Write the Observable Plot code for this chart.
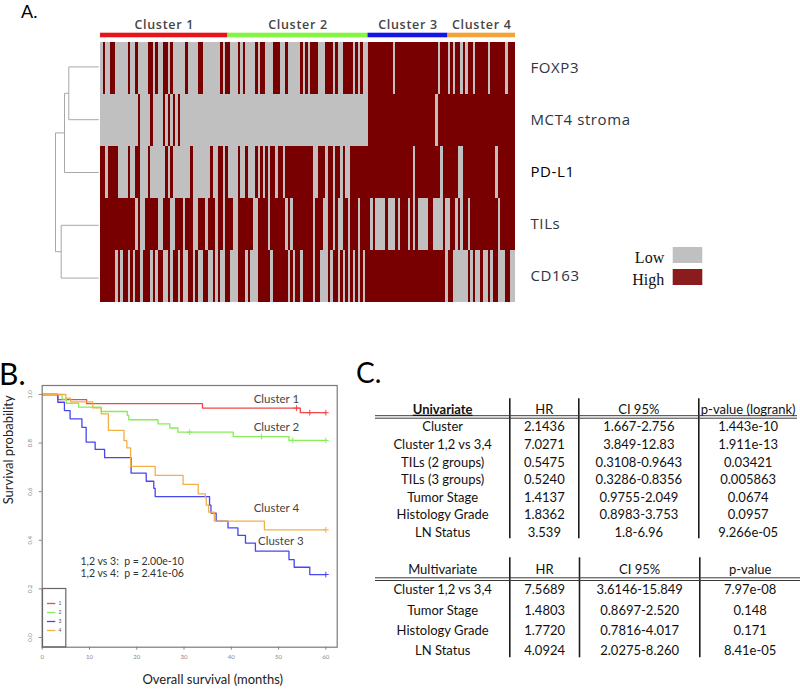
<!DOCTYPE html>
<html>
<head>
<meta charset="utf-8">
<script src="https://cdn.jsdelivr.net/npm/d3@7"></script>
<script src="https://cdn.jsdelivr.net/npm/@observablehq/plot@0.6"></script>
<style>
  html,body{margin:0;padding:0;background:#fff;}
  #root{position:relative;width:800px;height:689px;overflow:hidden;background:#fff;}
  #root svg{position:absolute;overflow:visible;}
  .panel{position:absolute;font-family:Lato,sans-serif;color:#000;line-height:1;white-space:nowrap;}
</style>
</head>
<body>
<div id="root"></div>
<script>
// ================= DATA =================
// Panel A: heatmap (1 = High, 0 = Low), one column per sample, grouped by cluster
const markers = ["FOXP3", "MCT4 stroma", "PD-L1", "TILs", "CD163"];
const clusterNames = ["Cluster 1", "Cluster 2", "Cluster 3", "Cluster 4"];
const clusterSizes = [51, 56, 32, 27];
const clusterColors = ["#e8141c", "#84f545", "#1414e6", "#f2a33a"];
const levels = ["Low", "High"];

const expr_FOXP3 = "0100110000 0100100001 1010011010 0000100001 1000000010 1100010100 0010110001 1100100000 1010111000 1110100111 1010100111 1111111011 1111111111 1111101110 1011010110 1111101111 110111";
const expr_MCT4  = "0000000000 0000010000 1000010101 0100000000 0000000000 0000000000 0000000000 0000000000 0000000000 0000000000 0000000111 1111111111 1111111111 1111011111 1111111111 1111111111 111111";
const expr_PDL1  = "1101111000 0100110001 0000001010 0000001000 0000100110 1000010010 0010101011 0110111111 1111100111 0110110100 1111111111 1111111111 1111101111 1111110111 1110011111 1111111101 111111";
const expr_TILs  = "1111111111 1111010011 1110011100 1110111001 1101110110 1110011111 1001111011 1111010111 1111101110 0110100110 1110111101 0000100010 1110101000 0110000100 1101011011 1111111110 111111";
const expr_CD163 = "1111110101 1010110111 0101100101 1010011010 0110010100 1100011101 0001111101 1111101011 0111101100 0101101010 1010101111 1111111111 1111111111 1111111101 1000000101 0010010110 001100";

// Row dendrogram (merge heights)
const dendroMerges = [
  {id: "m1", a: "FOXP3", b: "MCT4 stroma", height: 30.0},
  {id: "m2", a: "m1", b: "PD-L1", height: 34.3},
  {id: "m3", a: "TILs", b: "CD163", height: 37.6},
  {id: "m4", a: "m2", b: "m3", height: 43.3}
];

// Panel B: Kaplan-Meier curves [months, survival probability]
const km_c1 = [[0,1],[3.3,0.979],[9.4,0.962],[33.9,0.944],[54.6,0.925],[60,0.925]];
const km_c2 = [[0,1],[4.2,0.981],[5.1,0.964],[7.7,0.948],[12.5,0.930],[18.0,0.914],[18.3,0.896],[24.5,0.879],[27.0,0.862],[28.7,0.845],[40.4,0.827],[52.2,0.811],[60,0.811]];
const km_c3 = [[0,1],[3.3,0.968],[4.7,0.934],[5.9,0.900],[8.4,0.865],[9.3,0.804],[11.2,0.774],[13.2,0.740],[18.8,0.676],[22.0,0.643],[23.6,0.614],[23.9,0.580],[35.4,0.545],[35.7,0.512],[36.8,0.479],[39.3,0.451],[41.4,0.420],[43.0,0.388],[45.1,0.355],[52.2,0.320],[53.3,0.289],[56.6,0.259],[60,0.259]];
const km_c4 = [[0,1],[5.0,0.985],[6.0,0.970],[10.7,0.945],[12.5,0.920],[14.0,0.852],[17.3,0.810],[17.9,0.780],[18.7,0.704],[23.9,0.667],[29.8,0.630],[33.0,0.591],[34.5,0.575],[34.7,0.545],[35.2,0.516],[36.4,0.479],[47.0,0.443],[60,0.443]];
const cens_c1 = [[53.8,0.944],[56.6,0.925],[60,0.925]];
const cens_c2 = [[31.2,0.845],[46.4,0.827],[53.0,0.811],[60,0.811]];
const cens_c3 = [[60,0.259]];
const cens_c4 = [[60,0.443]];
const kmClusters = ["1", "2", "3", "4"];
const kmColors = ["#f04848", "#86ee5a", "#4646f2", "#f2b048"];
const kmTicksX = [0, 10, 20, 30, 40, 50, 60];
const kmTicksY = [0, 0.2, 0.4, 0.6, 0.8, 1.0];
const pComparisons = ["1,2 vs 3", "1,2 vs 4"];
const pValues = [2.00e-10, 2.41e-06];

// Panel C: Cox regression tables
const uniHeaders = ["Univariate", "HR", "CI 95%", "p-value (logrank)"];
const uniLabels = ["Cluster", "Cluster 1,2 vs 3,4", "TILs (2 groups)", "TILs (3 groups)", "Tumor Stage", "Histology Grade", "LN Status"];
const uniHR = ["2.1436", "7.0271", "0.5475", "0.5240", "1.4137", "1.8362", "3.539"];
const uniCI = ["1.667-2.756", "3.849-12.83", "0.3108-0.9643", "0.3286-0.8356", "0.9755-2.049", "0.8983-3.753", "1.8-6.96"];
const uniP  = ["1.443e-10", "1.911e-13", "0.03421", "0.005863", "0.0674", "0.0957", "9.266e-05"];
const multiHeaders = ["Multivariate", "HR", "CI 95%", "p-value"];
const multiLabels = ["Cluster 1,2 vs 3,4", "Tumor Stage", "Histology Grade", "LN Status"];
const multiHR = ["7.5689", "1.4803", "1.7720", "4.0924"];
const multiCI = ["3.6146-15.849", "0.8697-2.520", "0.7816-4.017", "2.0275-8.260"];
const multiP  = ["7.97e-08", "0.148", "0.171", "8.41e-05"];

// ================= LAYOUT =================
const root = document.getElementById("root");
const baseStyle = {background: "transparent", overflow: "visible", fontFamily: "Lato, sans-serif"};
function place(svg, left, top) {
  svg.style.position = "absolute";
  svg.style.left = left + "px";
  svg.style.top = top + "px";
  root.appendChild(svg);
  return svg;
}
function label(text, left, top, size) {
  const d = document.createElement("div");
  d.className = "panel";
  d.textContent = text;
  d.style.left = left + "px";
  d.style.top = top + "px";
  d.style.fontSize = size + "px";
  root.appendChild(d);
}

// ---------- Panel A ----------
const N = d3.sum(clusterSizes);
const exprByMarker = {"FOXP3": expr_FOXP3, "MCT4 stroma": expr_MCT4, "PD-L1": expr_PDL1, "TILs": expr_TILs, "CD163": expr_CD163};
const runs = [];
for (const m of markers) {
  const s = exprByMarker[m].replace(/\s/g, "");
  let start = 0;
  for (let i = 1; i <= s.length; i++) {
    if (i === s.length || s[i] !== s[start]) {
      runs.push({marker: m, start, end: i, level: s[start] === "1" ? "High" : "Low"});
      start = i;
    }
  }
}
const clusters = clusterNames.map((name, i) => ({
  name,
  start: d3.sum(clusterSizes.slice(0, i)),
  end: d3.sum(clusterSizes.slice(0, i + 1))
}));

// cluster header bar + names
place(Plot.plot({
  width: 800, height: 40,
  marginLeft: 100, marginRight: 285, marginTop: 32.7, marginBottom: 2.7,
  x: {domain: [0, N], axis: null},
  color: {domain: clusterNames, range: clusterColors},
  style: {...baseStyle, letterSpacing: "0.7px"},
  marks: [
    Plot.rect(clusters, {x1: "start", x2: "end", fill: "name"}),
    Plot.text(clusters, {x: d => (d.start + d.end) / 2, frameAnchor: "top", dy: -13, text: "name",
      fontFamily: "Open Sans", fontWeight: 600, fontSize: 12.5, fill: "#454545"})
  ]
}), 0, 0);

// heatmap
place(Plot.plot({
  width: 800, height: 320,
  marginLeft: 100, marginRight: 285, marginTop: 40, marginBottom: 16,
  x: {domain: [0, N], axis: null},
  y: {domain: markers, axis: null, padding: 0},
  color: {domain: levels, range: ["#c0c0c0", "#780000"]},
  style: {...baseStyle, letterSpacing: "0.6px"},
  marks: [
    Plot.barX(runs, {x1: "start", x2: "end", y: "marker", fill: "level", shapeRendering: "crispEdges"}),
    Plot.text(markers, {y: d => d, text: d => d, frameAnchor: "right", dx: 15, textAnchor: "start",
      fontFamily: "Open Sans", fontSize: 15, fill: d => d === "PD-L1" ? "#000" : "#2c3542"})
  ]
}), 0, 0);

// dendrogram
const nodePos = {};
markers.forEach((m, i) => nodePos[m] = {y: i + 0.5, h: 0});
const dendroSegs = [];
for (const mg of dendroMerges) {
  const A = nodePos[mg.a], B = nodePos[mg.b];
  dendroSegs.push({x1: mg.height, y1: A.y, x2: mg.height, y2: B.y});
  dendroSegs.push({x1: A.h, y1: A.y, x2: mg.height, y2: A.y});
  dendroSegs.push({x1: B.h, y1: B.y, x2: mg.height, y2: B.y});
  nodePos[mg.id] = {y: (A.y + B.y) / 2, h: mg.height};
}
place(Plot.plot({
  width: 800, height: 320,
  x: {type: "linear", domain: [d3.max(dendroMerges, d => d.height), 0], range: [55, 98.3], axis: null},
  y: {type: "linear", domain: [0, markers.length], range: [40, 304], axis: null},
  style: baseStyle,
  marks: [
    Plot.link(dendroSegs, {x1: "x1", y1: "y1", x2: "x2", y2: "y2", stroke: "#a8a8a8", strokeWidth: 1})
  ]
}), 0, 0);

// Low / High legend
place(Plot.plot({
  width: 120, height: 52,
  marginLeft: 82.7, marginRight: 7.7, marginTop: 0, marginBottom: 0,
  x: {axis: null},
  y: {domain: levels, padding: 0.28, axis: null},
  color: {domain: levels, range: ["#c0c0c0", "#8b1c1e"]},
  style: baseStyle,
  marks: [
    Plot.cell(levels, {y: d => d, fill: d => d}),
    Plot.text(levels, {y: d => d, text: d => d, frameAnchor: "left", dx: -9, dy: 2, textAnchor: "end",
      fontFamily: "Liberation Serif", fontSize: 16, fill: "#111"})
  ]
}), 590, 240);

label("A.", 21, 2.3, 18);

// ---------- Panel B ----------
const kmSeries = [km_c1, km_c2, km_c3, km_c4];
const kmPoints = kmSeries.flatMap((arr, i) => arr.map(([t, s]) => ({cluster: kmClusters[i], t, s})));
const censPoints = [cens_c1, cens_c2, cens_c3, cens_c4].flatMap((arr, i) => arr.map(([t, s]) => ({cluster: kmClusters[i], t, s})));
const kmEnds = kmSeries.map((arr, i) => ({cluster: kmClusters[i], t: arr[arr.length - 1][0], s: arr[arr.length - 1][1], name: "Cluster " + kmClusters[i]}));
const fmtP = p => p.toExponential(2).replace(/e([+-])(\d)$/, "e$10$2");
const pText = pComparisons.map((c, i) => `${c}:  p = ${fmtP(pValues[i])}`).join("\n");
const annot = (k, dx, dy) => Plot.text(kmEnds.filter(d => d.cluster === k), {x: "t", y: "s", text: "name",
  textAnchor: "end", dx, dy, fontSize: 11.5, fill: "#444"});

place(Plot.plot({
  width: 345, height: 309,
  marginLeft: 41.7, marginRight: 8.3, marginTop: 5, marginBottom: 42.3,
  x: {type: "linear", domain: [0, 62.4]},
  y: {type: "linear", domain: [-0.04, 1.037]},
  color: {domain: kmClusters, range: kmColors},
  style: baseStyle,
  marks: [
    Plot.axisX({ticks: kmTicksX, tickSize: 3, tickPadding: 5, fontSize: 6, stroke: "#888", color: "#888", label: null}),
    Plot.axisY({ticks: kmTicksY, tickFormat: d3.format(".1f"), tickRotate: -90, tickSize: 3, tickPadding: 7,
      fontSize: 6, stroke: "#888", color: "#888", label: null}),
    Plot.line(kmPoints, {x: "t", y: "s", z: "cluster", stroke: "cluster", curve: "step-after", strokeWidth: 1.3}),
    Plot.dot(censPoints, {x: "t", y: "s", stroke: "cluster", symbol: "plus", r: 2, strokeWidth: 1}),
    annot("1", -26.7, -13.3),
    annot("2", -26.7, -12.7),
    annot("4", -26.7, -22),
    annot("3", -22.3, -33.3),
    Plot.text([pText], {frameAnchor: "top-left", dx: 38.3, dy: 181.8, textAnchor: "start", lineAnchor: "middle",
      lineHeight: 1.12, fontSize: 10.5, fill: "#333"}),
    Plot.text(["Overall survival (months)"], {frameAnchor: "bottom", dx: 23, dy: 36.3, fontSize: 13, fill: "#222"}),
    Plot.text(["Survival probability"], {frameAnchor: "left", rotate: -90, dx: -33.4, dy: -12, fontSize: 13, fill: "#222"}),
    Plot.frame({stroke: "#7a7a7a", strokeWidth: 1.2})
  ]
}), 0, 380);

// KM legend box
place(Plot.plot({
  width: 23.3, height: 58.4,
  marginLeft: 0, marginRight: 0, marginTop: 0, marginBottom: 0,
  x: {axis: null},
  y: {type: "point", domain: kmClusters, range: [10.7, 46.7], axis: null},
  color: {domain: kmClusters, range: kmColors},
  style: baseStyle,
  marks: [
    Plot.frame({stroke: "#666", strokeWidth: 1.2}),
    Plot.ruleY(kmClusters, {y: d => d, stroke: d => d, insetLeft: 5, insetRight: 10, strokeWidth: 1.3}),
    Plot.text(kmClusters, {y: d => d, text: d => d, frameAnchor: "right", dx: -4.3, fontSize: 5, fill: "#555"})
  ]
}), 41.7, 588.3);

label("B.", -1, 358.4, 30);

// ---------- Panel C ----------
function makeTable(cfg) {
  const rows = [cfg.headers, ...cfg.labels.map((l, i) => [l, cfg.hr[i], cfg.ci[i], cfg.p[i]])];
  const cells = rows.flatMap((r, ri) => r.map((t, ci) => ({row: ri, col: ci, text: t})));
  const plain = cells.filter(d => !(cfg.bold && d.row === 0 && d.col === 0));
  const boldCells = cells.filter(d => cfg.bold && d.row === 0 && d.col === 0);
  const svg = Plot.plot({
    width: cfg.width, height: cfg.height,
    marginTop: cfg.mTop, marginBottom: cfg.mBottom,
    marginLeft: cfg.xRange[0], marginRight: cfg.width - cfg.xRange[4],
    x: {type: "linear", domain: [0, 1, 2, 3, 4], range: cfg.xRange, axis: null},
    y: {type: "linear", domain: [0, rows.length - 1], range: cfg.yRange, axis: null},
    style: baseStyle,
    marks: [
      Plot.ruleX([1, 2, 3], {stroke: "#1c1c1c", strokeWidth: 1.6}),
      Plot.ruleY([0], {dy: cfg.lines[0], stroke: "#3a3a3a", strokeWidth: 1}),
      Plot.ruleY([0], {dy: cfg.lines[1], stroke: "#3a3a3a", strokeWidth: 1}),
      Plot.text(plain, {x: d => d.col + 0.5, y: "row", text: "text", fontSize: 13, fill: "#111"}),
      Plot.text(boldCells, {x: d => d.col + 0.5, y: "row", text: "text", fontSize: 13, fontWeight: "bold", fill: "#111"})
    ]
  });
  if (cfg.bold) {
    d3.select(svg).selectAll("text").filter(function() { return this.textContent === cfg.headers[0]; })
      .style("text-decoration", "underline");
  }
  return svg;
}
place(makeTable({
  headers: uniHeaders, labels: uniLabels, hr: uniHR, ci: uniCI, p: uniP, bold: true,
  width: 430, height: 145, mTop: 3.3, mBottom: 1.7,
  xRange: [5, 139.3, 208.3, 328.3, 427], yRange: [14, 137.3], lines: [6.2, 8.7]
}), 370, 395);
place(makeTable({
  headers: multiHeaders, labels: multiLabels, hr: multiHR, ci: multiCI, p: multiP, bold: false,
  width: 430, height: 105, mTop: 2.3, mBottom: 2.7,
  xRange: [5, 139.3, 209, 329.3, 430], yRange: [14.3, 95.7], lines: [8, 10.7]
}), 370, 555);

label("C.", 356, 358.2, 28);
</script>
</body>
</html>
